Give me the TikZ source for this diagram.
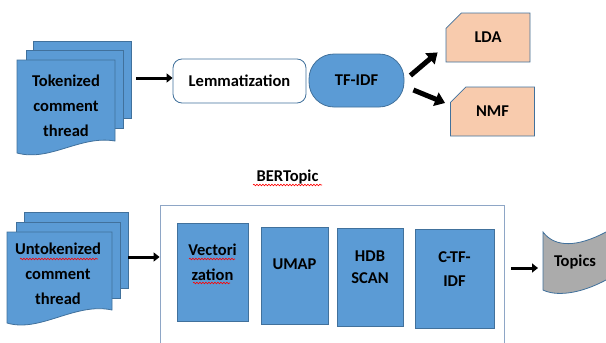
\documentclass[tikz,border=0pt]{standalone}
\usepackage{fontspec}
\setmainfont{Carlito}
\usetikzlibrary{arrows.meta,shapes.misc,decorations.pathmorphing}

\definecolor{docblue}{HTML}{5B9BD5}
\definecolor{edgeblue}{HTML}{41719C}
\definecolor{peach}{HTML}{F8CBAD}
\definecolor{tapegray}{HTML}{ABABAB}
\definecolor{framegray}{HTML}{8EA6C6}

\tikzset{
  lbl/.style={font=\bfseries\fontsize{16.5}{25}\selectfont, align=center, inner sep=0pt, text=black},
  bluebox/.style={draw=edgeblue, fill=docblue, line width=0.8pt},
  cutbox/.style={lbl, chamfered rectangle, chamfered rectangle corners=north west,
    chamfered rectangle xsep=16pt, chamfered rectangle ysep=10pt,
    draw=edgeblue, fill=peach, line width=0.8pt, minimum width=84pt, minimum height=49pt},
  bigarrow/.style={line width=3pt, -{Triangle[length=6pt,width=9pt]}},
  fatarrow/.style={line width=5pt, -{Triangle[length=10pt,width=14pt]}},
  squiggle/.style={red, line width=0.6pt, decorate, decoration={snake, amplitude=0.8pt, segment length=3pt}},
}

\begin{document}
\begin{tikzpicture}[x=1pt,y=1pt,yscale=-1]
\useasboundingbox (0,0) rectangle (606,343);
\clip (0,0) rectangle (606,343);

%Multidocument: tokenized thread
\draw[bluebox] (33,41) rectangle (131,118);
\draw[bluebox] (26,50) rectangle (123,128);
\draw[bluebox] (17,60) -- (115,60) -- (115,141) .. controls (80,135) and (50,162) .. (17,153) -- cycle;
\node[lbl] (tok) at (66,106) {Tokenized\\comment\\thread};
\coordinate (tokout) at (136,78);

% Lemmatization and TF-IDF
\node[lbl, draw=edgeblue, fill=white, line width=0.8pt, rounded corners=9pt,
  minimum width=133pt, minimum height=44pt] (lem) at (239.5,81) {Lemmatization};
\node[lbl, bluebox, rounded corners=25pt, minimum width=95pt, minimum height=53pt] (tfidf) at (356.5,80.5) {TF-IDF};

% Topic models
\node[cutbox] (lda) at (488,37.5) {LDA};
\node[cutbox] (nmf) at (492.5,111.5) {NMF};

\draw[bigarrow] (tokout) -- (tokout -| lem.west);
\draw[fatarrow] ([shift={(6,-5)}]tfidf.east) -- ([shift={(-8,-10)}]lda.south west);
\draw[fatarrow] ([shift={(9,9.5)}]tfidf.east) -- ([shift={(-5,-8.5)}]nmf.west);

% BERTopic pipeline
\node[lbl] (bert) at (287.5,177) {BERTopic};
\draw[squiggle] (253,185) -- (322,185);

%Multidocument: untokenized thread
\draw[bluebox] (24,212) rectangle (128,288);
\draw[bluebox] (16,222) rectangle (120,298);
\draw[bluebox] (7,232) -- (112,232) -- (112,310) .. controls (75,302) and (40,333) .. (7,323) -- cycle;
\node[lbl] (untok) at (58,274) {Untokenized\\comment\\thread};
\draw[squiggle] (20,259) -- (98,259);
\coordinate (untokout) at (128,257);

\node[draw=framegray, line width=0.8pt, minimum width=344pt, minimum height=155pt] (frame) at (332,282.5) {};
\draw[bigarrow] (untokout) -- (untokout -| frame.west);

\node[bluebox, minimum width=71pt, minimum height=98pt] (vec) at (212.5,272) {};
\node[lbl] (vect) at ([yshift=-10pt]vec.center) {Vectori\\zation};
\draw[squiggle] (189,259) -- (235,259);
\draw[squiggle] (193,283) -- (230,283);

\node[bluebox, minimum width=67pt, minimum height=97pt] (umap) at (294.5,275.5) {};
\node[lbl] (umapt) at ([yshift=-11.5pt]umap.center) {UMAP};

\node[bluebox, minimum width=66pt, minimum height=98pt] (hdb) at (370,277) {};
\node[lbl] (hdbt) at ([yshift=-10pt]hdb.center) {HDB\\[-3pt]SCAN};

\node[bluebox, minimum width=79pt, minimum height=99pt] (ctf) at (454.5,278.5) {};
\node[lbl] (ctft) at ([yshift=-9.5pt]ctf.center) {C-TF-\\[-1pt]IDF};

%Punched tape: topics
\draw[draw=edgeblue, fill=tapegray, line width=0.8pt] (543,232) .. controls (555,248) and (578,247) .. (606,232) -- (614,228)
  -- (614,278) -- (606,280) .. controls (578,295) and (555,296) .. (543,290) -- cycle;
\node[lbl] (topics) at (575,262) {Topics};
\coordinate (tapein) at (538,268);
\draw[bigarrow, shorten <=7pt] (frame.east |- tapein) -- (tapein);

\end{tikzpicture}
\end{document}
